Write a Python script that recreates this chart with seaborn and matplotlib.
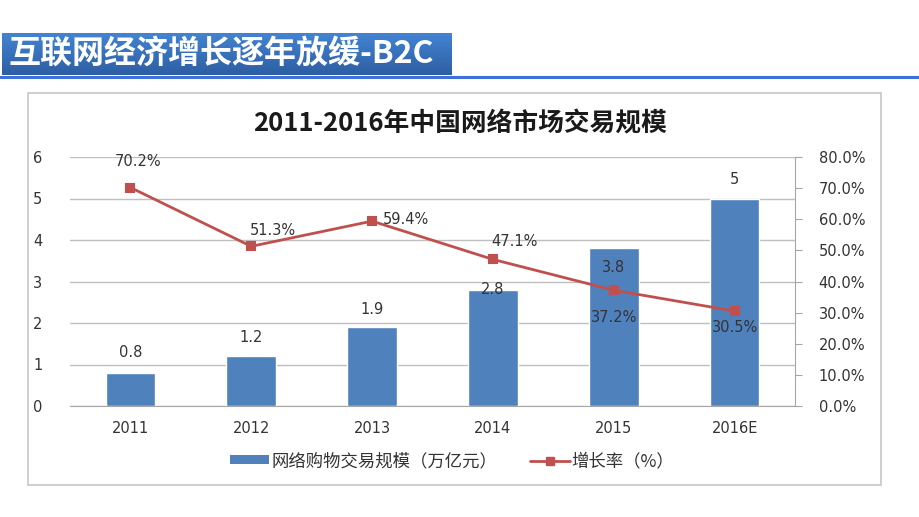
import numpy as np
import seaborn as sns
import matplotlib.pyplot as plt
from matplotlib.patches import Rectangle, Patch
from matplotlib.lines import Line2D
from matplotlib.ticker import FuncFormatter
from matplotlib.colors import LinearSegmentedColormap

# data
years = ['2011', '2012', '2013', '2014', '2015', '2016E']
scale = [0.8, 1.2, 1.9, 2.8, 3.8, 5]           # 万亿元
growth = [70.2, 51.3, 59.4, 47.1, 37.2, 30.5]  # %
bar_labels = ['0.8', '1.2', '1.9', '2.8', '3.8', '5']
rate_labels = ['70.2%', '51.3%', '59.4%', '47.1%', '37.2%', '30.5%']

sns.set_style('white')
plt.rcParams['font.family'] = ['DejaVu Sans', 'Noto Sans CJK SC']
cjk = ['Noto Sans CJK SC', 'DejaVu Sans']

BAR = '#4f81bd'
LINE = '#c0504d'
TXT = '#333333'

fig = plt.figure(figsize=(9.2, 5.17), dpi=100)
W, H = 920, 517

# ------------------------------
# header banner with gradient
bax = fig.add_axes([2 / W, 1 - 75 / H, 450 / W, 42 / H])
grad = np.linspace(0, 1, 100).reshape(-1, 1)
cm = LinearSegmentedColormap.from_list('b', ['#4384d2', '#2d5ea3'])
bax.imshow(grad, aspect='auto', cmap=cm, extent=[0, 1, 0, 1], origin='upper')
bax.set_axis_off()
fig.text(9 / W, 1 - 54 / H, '互联网经济增长逐年放缓-B2C', family=cjk, fontsize=23,
         fontweight='bold', color='white', va='center', ha='left')
fig.add_artist(Line2D([0, 1], [1 - 77 / H, 1 - 77 / H], color='#3f6fd9', lw=2.2,
                      transform=fig.transFigure))

# chart frame
fig.add_artist(Rectangle((28 / W, 1 - 485 / H), 853 / W, 392 / H, transform=fig.transFigure,
                         facecolor='white', edgecolor='#c6c6c6', lw=1.2, zorder=0.5))

fig.text(460 / W, 1 - 124 / H, '2011-2016年中国网络市场交易规模', family=cjk,
         fontsize=18.5, fontweight='bold', color='#1a1a1a', ha='center', va='center')

# ------------------------------
# bars
ax = fig.add_axes([70 / W, 1 - 406 / H, 725 / W, 249 / H])
ax.set_zorder(2)
ax.patch.set_visible(False)
sns.barplot(x=years, y=scale, color=BAR, width=0.41, saturation=1, ax=ax, zorder=3)
ax.set_ylim(0, 6)
ax.set_xlim(-0.5, 5.5)
ax.set_yticks(range(7))
ax.yaxis.grid(True, color='#bfbfbf', lw=1)
ax.set_axisbelow(True)
for s in ['top', 'right', 'left']:
    ax.spines[s].set_visible(False)
ax.spines['bottom'].set_color('#a6a6a6')
ax.tick_params(axis='y', length=0, pad=20, labelsize=10.5, labelcolor=TXT)
ax.tick_params(axis='x', length=0, pad=11, labelsize=10.5, labelcolor=TXT)
ax.set_xlabel('')

bar_off = [20, 19, 18, 0, -19, 19]
for i, (v, t) in enumerate(zip(scale, bar_labels)):
    ax.annotate(t, (i, v), xytext=(0, bar_off[i]), textcoords='offset pixels',
                ha='center', va='center', fontsize=10.5, color=TXT, zorder=6)

# ------------------------------
# growth line on right axis
ax2 = ax.twinx()
ax2.set_zorder(3)
sns.pointplot(x=years, y=growth, color=LINE, markers='s', markersize=6,
              linewidth=2, ax=ax2)
ax2.set_ylim(0, 80)
ax2.set_xlim(-0.5, 5.5)
ax2.set_yticks(range(0, 81, 10))
ax2.yaxis.set_major_formatter(FuncFormatter(lambda v, p: f'{v:.1f}%'))
for s in ['top', 'left', 'bottom']:
    ax2.spines[s].set_visible(False)
ax2.spines['right'].set_color('#a6a6a6')
ax2.tick_params(axis='y', length=5, color='#a6a6a6', pad=12, labelsize=10.5, labelcolor=TXT)
ax2.grid(False)

rate_off = [(8, 26), (22, 16), (34, 2), (22, 18), (0, -27), (0, -16)]
for i, (v, t) in enumerate(zip(growth, rate_labels)):
    dx, dy = rate_off[i]
    ax2.annotate(t, (i, v), xytext=(dx, dy), textcoords='offset pixels',
                 ha='center', va='center', fontsize=10.5, color=TXT, zorder=6)

# ------------------------------
# legend
handles = [Patch(facecolor=BAR, edgecolor='none'),
           Line2D([], [], color=LINE, lw=2, marker='s', markersize=6)]
labels = ['网络购物交易规模（万亿元）', '增长率（%）']
leg = fig.legend(handles, labels, loc='center', bbox_to_anchor=(452 / W, 1 - 461 / H),
                 ncol=2, frameon=False, handlelength=2.3, handleheight=0.4,
                 columnspacing=1.9, handletextpad=0.1, prop={'family': cjk, 'size': 12.5})
for t in leg.get_texts():
    t.set_color(TXT)

fig.savefig('out.png', dpi=100)
